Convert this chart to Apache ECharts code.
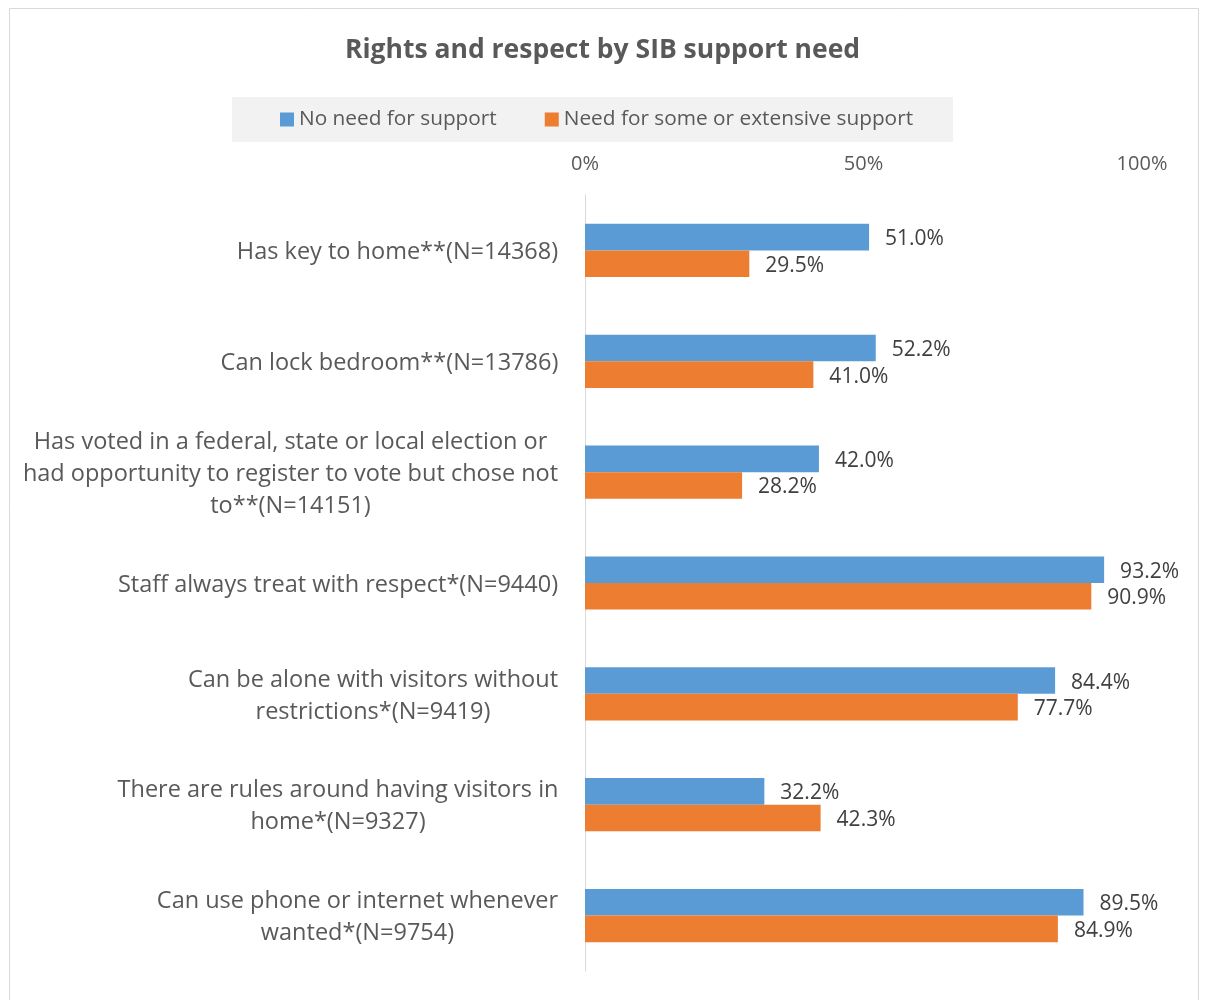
<!DOCTYPE html>
<html><head><meta charset="utf-8">
<script src="https://cdn.jsdelivr.net/npm/echarts@6/dist/echarts.min.js"></script>
<style>html,body{margin:0;padding:0;background:#fff}#c{width:1205px;height:1000px}</style>
</head><body><div id="c"></div>
<script>
const categories = [
  "Has key to home**(N=14368)",
  "Can lock bedroom**(N=13786)",
  "Has voted in a federal, state or local election or\nhad opportunity to register to vote but chose not\nto**(N=14151)",
  "Staff always treat with respect*(N=9440)",
  "Can be alone with visitors without\nrestrictions*(N=9419)",
  "There are rules around having visitors in\nhome*(N=9327)",
  "Can use phone or internet whenever\nwanted*(N=9754)"
];
const noNeed = [51.0, 52.2, 42.0, 93.2, 84.4, 32.2, 89.5];
const someNeed = [29.5, 41.0, 28.2, 90.9, 77.7, 42.3, 84.9];
const seriesNames = ["No need for support", "Need for some or extensive support"];
const xTicks = [0, 50, 100];

const FONT = "Open Sans";
const CAT_SIZE = 23.5;
const ctx = document.createElement('canvas').getContext('2d');
ctx.font = CAT_SIZE + 'px "' + FONT + '"';
const rich = {};
categories.forEach((c, i) => {
  const w = Math.max(...c.split('\n').map(l => ctx.measureText(l).width));
  rich['c' + i] = {width: Math.ceil(w) + 1, align: 'center', fontSize: CAT_SIZE, lineHeight: 32, color: '#595959', fontFamily: FONT};
});

const chart = echarts.init(document.getElementById('c'), null, {renderer: 'canvas'});
const lbl = {show: true, position: 'right', distance: 16, offset: [0, 2], color: '#404040', fontSize: 21, fontFamily: FONT,
  formatter: p => p.value.toFixed(1) + '%'};
chart.setOption({
  animation: false,
  textStyle: {fontFamily: FONT},
  graphic: [{type: 'rect', shape: {x: 9.5, y: 8.5, width: 1189, height: 1000}, style: {fill: 'none', stroke: '#d9d9d9', lineWidth: 1}, silent: true}],
  title: {text: 'Rights and respect by SIB support need', left: 'center', top: 32,
    textStyle: {fontSize: 26.5, fontWeight: 'bold', color: '#595959', fontFamily: FONT}},
  legend: {data: seriesNames, top: 97, left: 232,
    backgroundColor: '#f2f2f2', padding: [12, 40, 12, 48], itemWidth: 14, itemHeight: 14, itemGap: 48,
    icon: 'rect', textStyle: {fontSize: 20.8, color: '#595959', fontFamily: FONT}},
  grid: {left: 585, right: 63, top: 195, bottom: 29, containLabel: false},
  xAxis: {type: 'value', position: 'top', min: 0, max: 100, interval: 50,
    axisLine: {show: false}, axisTick: {show: false}, splitLine: {show: false},
    axisLabel: {formatter: v => xTicks.includes(v) ? v + '%' : '', fontSize: 20, color: '#595959', margin: 21, fontFamily: FONT}},
  yAxis: {type: 'category', data: categories, inverse: true,
    axisLine: {show: true, lineStyle: {color: '#d9d9d9', width: 1}}, axisTick: {show: false},
    axisLabel: {fontSize: CAT_SIZE, color: '#595959', margin: 26, lineHeight: 32, align: 'right', fontFamily: FONT, rich: rich,
      padding: [4, 0, 0, 0],
      formatter: (v, i) => v.split('\n').map(l => '{c' + i + '|' + l + '}').join('\n')}},
  series: [
    {name: seriesNames[0], type: 'bar', data: noNeed, itemStyle: {color: '#5b9bd5'}, barGap: '0%', barCategoryGap: '52%', label: lbl},
    {name: seriesNames[1], type: 'bar', data: someNeed, itemStyle: {color: '#ed7d31'}, barGap: '0%', barCategoryGap: '52%', label: lbl}
  ]
});
</script></body></html>
